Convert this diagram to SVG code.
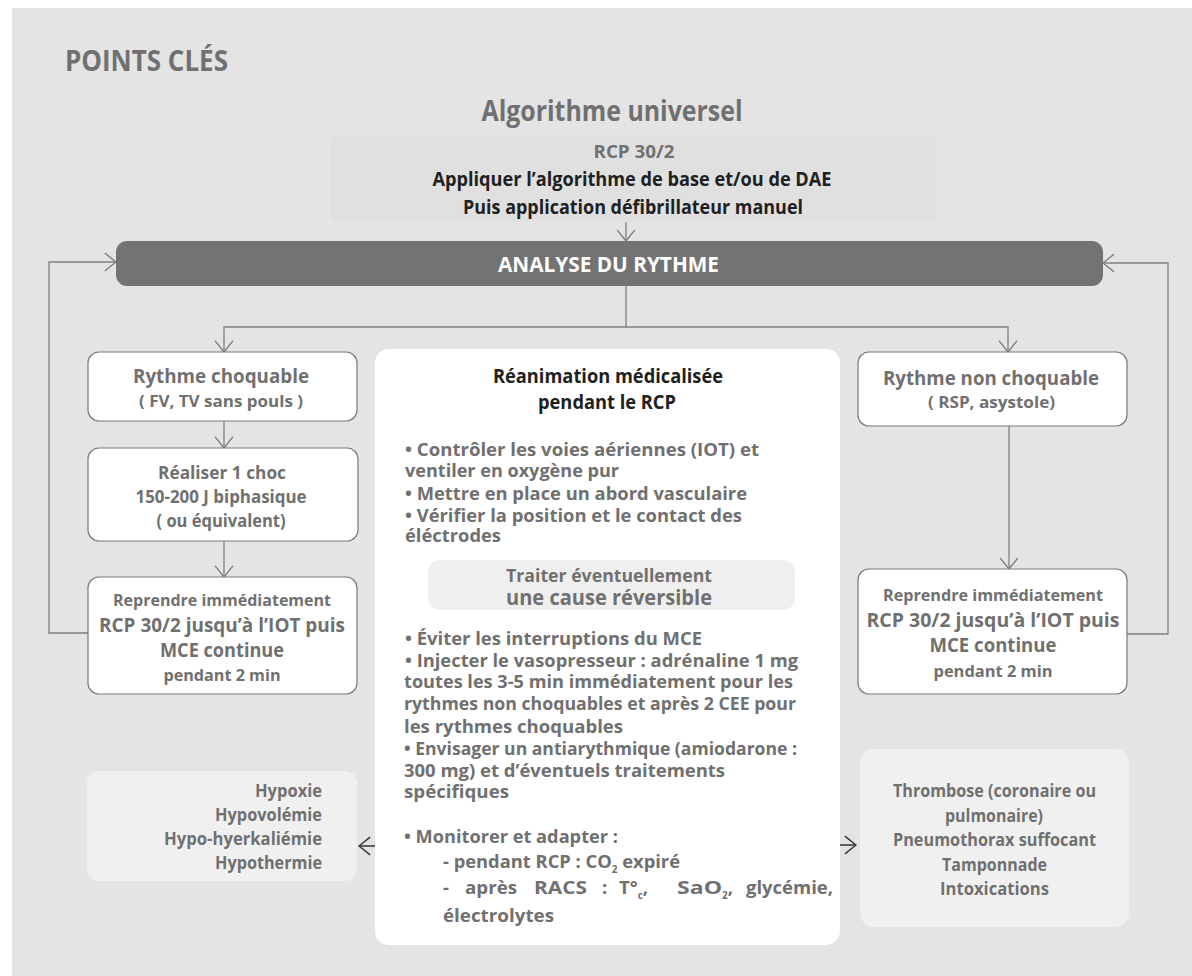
<svg xmlns="http://www.w3.org/2000/svg" width="1192" height="976" viewBox="0 0 1192 976">
<defs>
<style>
text{font-family:"Open Sans","Noto Sans","Liberation Sans",sans-serif;font-weight:bold;fill:#707070}
.k{fill:#202020}
.w{fill:#ffffff}
.m{text-anchor:middle}
.e{text-anchor:end}
.box{fill:#ffffff;stroke:#7a7a7a;stroke-width:1.2}
.cause{fill:#f0f0f0}
.ln{fill:none;stroke:#808080;stroke-width:1.3}
.dk{fill:none;stroke:#333333;stroke-width:1.3}
</style>
<marker id="ag" markerUnits="userSpaceOnUse" markerWidth="14" markerHeight="20" viewBox="-1 -9 12 18" refX="10" refY="0" orient="auto">
<path d="M0,-8 L10,0 L0,8" fill="none" stroke="#808080" stroke-width="1.3"/>
</marker>
<marker id="ad" markerUnits="userSpaceOnUse" markerWidth="14" markerHeight="20" viewBox="-1 -9 12 18" refX="10" refY="0" orient="auto">
<path d="M0,-8 L10,0 L0,8" fill="none" stroke="#333333" stroke-width="1.3"/>
</marker>
</defs>
<rect x="0" y="0" width="1192" height="976" fill="#ffffff"/>
<rect x="12" y="8" width="1180" height="968" fill="#e4e4e4"/>
<text x="65" y="71" font-size="28" textLength="163" lengthAdjust="spacingAndGlyphs">POINTS CLÉS</text>
<text x="612" y="121" font-size="28" class="m" textLength="261" lengthAdjust="spacingAndGlyphs">Algorithme universel</text>

<g id="connectors">
<path class="ln" d="M626,222 V241" marker-end="url(#ag)"/>
<path class="ln" d="M626,286 V327 H224 V352" marker-end="url(#ag)"/>
<path class="ln" d="M626,327 H1008 V352" marker-end="url(#ag)"/>
<path class="ln" d="M224,421 V448" marker-end="url(#ag)"/>
<path class="ln" d="M224,541 V577" marker-end="url(#ag)"/>
<path class="ln" d="M1009,426 V569" marker-end="url(#ag)"/>
<path class="ln" d="M88,633 H49 V262 H116" marker-end="url(#ag)"/>
<path class="ln" d="M1127,634 H1168 V263 H1103" marker-end="url(#ag)"/>
<path class="dk" d="M428,592 H388 V846 H359" marker-end="url(#ad)"/>
<path class="dk" d="M795,589 H828 V845 H856" marker-end="url(#ad)"/>
</g>

<g id="top">
<rect x="330" y="135" width="607" height="87" rx="10" fill="#e0e0e0"/>
<text x="634" y="158" font-size="18" class="m" textLength="81" lengthAdjust="spacingAndGlyphs">RCP 30/2</text>
<text x="632" y="186" font-size="19" class="m k" textLength="399" lengthAdjust="spacingAndGlyphs">Appliquer l’algorithme de base et/ou de DAE</text>
<text x="633" y="214" font-size="19" class="m k" textLength="340" lengthAdjust="spacingAndGlyphs">Puis application défibrillateur manuel</text>
</g>

<g id="analyse">
<rect x="116" y="241" width="987" height="45" rx="11" fill="#737373"/>
<text x="608.5" y="272" font-size="22" class="m w" textLength="221" lengthAdjust="spacingAndGlyphs">ANALYSE DU RYTHME</text>
</g>

<g id="choquable">
<rect class="box" x="88" y="352" width="269" height="69" rx="11"/>
<text x="221" y="383" font-size="20" class="m" textLength="176" lengthAdjust="spacingAndGlyphs">Rythme choquable</text>
<text x="221" y="407" font-size="16" class="m" textLength="164" lengthAdjust="spacingAndGlyphs">( FV, TV sans pouls )</text>
</g>

<g id="choc">
<rect class="box" x="88" y="448" width="270" height="93" rx="11"/>
<text x="222" y="479" font-size="17" class="m" textLength="128" lengthAdjust="spacingAndGlyphs">Réaliser 1 choc</text>
<text x="221" y="503" font-size="17" class="m" textLength="171" lengthAdjust="spacingAndGlyphs">150-200 J biphasique</text>
<text x="221" y="527" font-size="17" class="m" textLength="129" lengthAdjust="spacingAndGlyphs">( ou équivalent)</text>
</g>

<g id="reprendre-gauche">
<rect class="box" x="88" y="577" width="269" height="117" rx="11"/>
<text x="222" y="606" font-size="16" class="m" textLength="218" lengthAdjust="spacingAndGlyphs">Reprendre immédiatement</text>
<text x="222" y="632" font-size="20" class="m" textLength="246" lengthAdjust="spacingAndGlyphs">RCP 30/2 jusqu’à l’IOT puis</text>
<text x="222" y="657" font-size="20" class="m" textLength="124" lengthAdjust="spacingAndGlyphs">MCE continue</text>
<text x="222" y="681" font-size="16" class="m" textLength="117" lengthAdjust="spacingAndGlyphs">pendant 2 min</text>
</g>

<g id="non-choquable">
<rect class="box" x="858" y="352" width="269" height="74" rx="11"/>
<text x="991" y="385" font-size="20" class="m" textLength="216" lengthAdjust="spacingAndGlyphs">Rythme non choquable</text>
<text x="991.5" y="408" font-size="16" class="m" textLength="127" lengthAdjust="spacingAndGlyphs">( RSP, asystole)</text>
</g>

<g id="reprendre-droite">
<rect class="box" x="858" y="569" width="269" height="125" rx="11"/>
<text x="993" y="601" font-size="16" class="m" textLength="220" lengthAdjust="spacingAndGlyphs">Reprendre immédiatement</text>
<text x="993" y="627" font-size="20" class="m" textLength="253" lengthAdjust="spacingAndGlyphs">RCP 30/2 jusqu’à l’IOT puis</text>
<text x="993" y="652" font-size="20" class="m" textLength="127" lengthAdjust="spacingAndGlyphs">MCE continue</text>
<text x="993" y="677" font-size="16" class="m" textLength="119" lengthAdjust="spacingAndGlyphs">pendant 2 min</text>
</g>

<g id="reanimation">
<rect x="375" y="349" width="465" height="596" rx="14" fill="#ffffff"/>
<text x="608" y="383" font-size="20" class="m k" textLength="230" lengthAdjust="spacingAndGlyphs">Réanimation médicalisée</text>
<text x="607" y="409" font-size="20" class="m k" textLength="138" lengthAdjust="spacingAndGlyphs">pendant le RCP</text>
<text x="405" y="456" font-size="18.5" textLength="354" lengthAdjust="spacingAndGlyphs">• Contrôler les voies aériennes (IOT) et</text>
<text x="405" y="477" font-size="18.5" textLength="214" lengthAdjust="spacingAndGlyphs">ventiler en oxygène pur</text>
<text x="405" y="500" font-size="18.5" textLength="342" lengthAdjust="spacingAndGlyphs">• Mettre en place un abord vasculaire</text>
<text x="405" y="522" font-size="18.5" textLength="337" lengthAdjust="spacingAndGlyphs">• Vérifier la position et le contact des</text>
<text x="405" y="542" font-size="18.5" textLength="96" lengthAdjust="spacingAndGlyphs">éléctrodes</text>
<text x="405" y="645" font-size="18.5" textLength="297" lengthAdjust="spacingAndGlyphs">• Éviter les interruptions du MCE</text>
<text x="405" y="667" font-size="18.5" textLength="393" lengthAdjust="spacingAndGlyphs">• Injecter le vasopresseur : adrénaline 1 mg</text>
<text x="404" y="688" font-size="18.5" textLength="389" lengthAdjust="spacingAndGlyphs">toutes les 3-5 min immédiatement pour les</text>
<text x="404" y="710" font-size="18.5" textLength="392" lengthAdjust="spacingAndGlyphs">rythmes non choquables et après 2 CEE pour</text>
<text x="404" y="733" font-size="18.5" textLength="219" lengthAdjust="spacingAndGlyphs">les rythmes choquables</text>
<text x="404" y="755" font-size="18.5" textLength="393" lengthAdjust="spacingAndGlyphs">• Envisager un antiarythmique (amiodarone :</text>
<text x="404" y="777" font-size="18.5" textLength="321" lengthAdjust="spacingAndGlyphs">300 mg) et d’éventuels traitements</text>
<text x="404" y="798" font-size="18.5" textLength="105" lengthAdjust="spacingAndGlyphs">spécifiques</text>
<text x="404" y="843" font-size="18.5" textLength="214" lengthAdjust="spacingAndGlyphs">• Monitorer et adapter :</text>
<text x="443" y="868" font-size="18.5" textLength="237" lengthAdjust="spacingAndGlyphs">- pendant RCP : CO<tspan font-size="10" dy="5">2</tspan><tspan dy="-5"> expiré</tspan></text>
<text y="894" font-size="18.5"><tspan x="443">-</tspan><tspan x="465" textLength="52" lengthAdjust="spacingAndGlyphs">après</tspan><tspan x="534" textLength="53" lengthAdjust="spacingAndGlyphs">RACS</tspan><tspan x="602">:</tspan><tspan x="619">T°</tspan><tspan font-size="10" dy="5">c</tspan><tspan dy="-5">,</tspan><tspan x="677" textLength="45" lengthAdjust="spacingAndGlyphs">SaO</tspan><tspan font-size="10" dy="5">2</tspan><tspan dy="-5">,</tspan><tspan x="746" textLength="87" lengthAdjust="spacingAndGlyphs">glycémie,</tspan></text>
<text x="443" y="922" font-size="18.5" textLength="111" lengthAdjust="spacingAndGlyphs">électrolytes</text>
</g>

<g id="cause-reversible">
<rect x="428" y="560" width="367" height="50" rx="12" fill="#efefef"/>
<text x="609" y="582" font-size="17" class="m" textLength="206" lengthAdjust="spacingAndGlyphs">Traiter éventuellement</text>
<text x="609" y="605" font-size="21" class="m" textLength="206" lengthAdjust="spacingAndGlyphs">une cause réversible</text>
</g>

<g id="causes-gauche">
<rect class="cause" x="87" y="771" width="270" height="110" rx="12"/>
<text x="322" y="797" font-size="17" class="e" textLength="67" lengthAdjust="spacingAndGlyphs">Hypoxie</text>
<text x="322" y="821" font-size="17" class="e" textLength="107" lengthAdjust="spacingAndGlyphs">Hypovolémie</text>
<text x="322" y="845" font-size="17" class="e" textLength="158" lengthAdjust="spacingAndGlyphs">Hypo-hyerkaliémie</text>
<text x="322" y="869" font-size="17" class="e" textLength="107" lengthAdjust="spacingAndGlyphs">Hypothermie</text>
</g>

<g id="causes-droite">
<rect class="cause" x="860" y="749" width="269" height="178" rx="14"/>
<text x="994.5" y="797" font-size="17" class="m" textLength="203" lengthAdjust="spacingAndGlyphs">Thrombose (coronaire ou</text>
<text x="994" y="822" font-size="17" class="m" textLength="98" lengthAdjust="spacingAndGlyphs">pulmonaire)</text>
<text x="994.5" y="846" font-size="17" class="m" textLength="203" lengthAdjust="spacingAndGlyphs">Pneumothorax suffocant</text>
<text x="994.5" y="871" font-size="17" class="m" textLength="105" lengthAdjust="spacingAndGlyphs">Tamponnade</text>
<text x="994.5" y="895" font-size="17" class="m" textLength="109" lengthAdjust="spacingAndGlyphs">Intoxications</text>
</g>
</svg>
